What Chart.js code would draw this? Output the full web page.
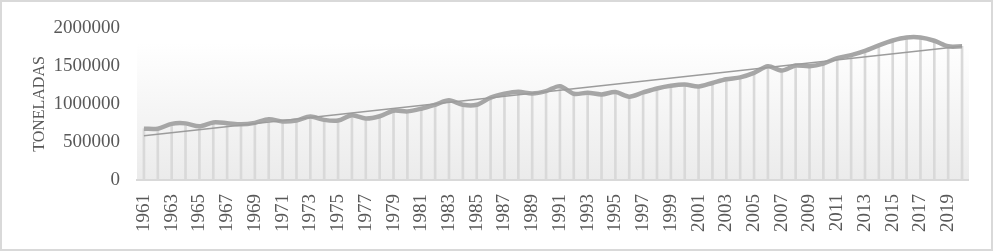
<!DOCTYPE html>
<html>
<head>
<meta charset="utf-8">
<script src="https://cdn.jsdelivr.net/npm/chart.js@4.4.1/dist/chart.umd.min.js"></script>
<style>
    html, body { margin: 0; padding: 0; background: #fff; }
    #wrap {
        width: 993px; height: 251px; box-sizing: border-box;
        border: 2px solid #d9d9d9; position: relative;
    }
    canvas { position: absolute; left: 0; top: 0; }
</style>
</head>
<body>
<div id="wrap"><canvas id="chart" width="989" height="247"></canvas></div>
<script>
// años
const years = [];
for (let y = 1961; y <= 2020; y++) years.push(String(y));

// producción (toneladas)
const toneladas = [
    675000, 675000, 739000, 745000, 706000, 757000, 748000, 732000, 752000, 800000,
    770000, 783000, 835000, 791000, 783000, 852000, 809000, 839000, 912000, 903000,
    938000, 990000, 1049000, 990000, 990000, 1084000, 1135000, 1161000, 1139000, 1170000,
    1235000, 1135000, 1148000, 1126000, 1157000, 1097000, 1152000, 1204000, 1239000, 1255000,
    1230000, 1277000, 1325000, 1351000, 1410000, 1497000, 1441000, 1506000, 1497000, 1532000,
    1604000, 1643000, 1699000, 1772000, 1836000, 1875000, 1875000, 1832000, 1759000, 1759000
];

// línea de tendencia: solo extremos
const trendStart = 581000;
const trendEnd = 1760000;
const tendencia = years.map((_, i) => i === 0 ? trendStart : (i === years.length - 1 ? trendEnd : null));

const yTicks = [0, 500000, 1000000, 1500000, 2000000];

const FONT = "'Liberation Serif', 'Times New Roman', serif";

// fondo degradado del área de trazado
const plotBg = {
    id: 'plotBg',
    beforeDraw(chart) {
        const { ctx, chartArea: a } = chart;
        const top = a.top + 15;
        const g = ctx.createLinearGradient(0, top, 0, a.bottom);
        g.addColorStop(0, '#ffffff');
        g.addColorStop(1, '#ebebeb');
        ctx.save();
        ctx.fillStyle = g;
        ctx.fillRect(a.left, top, a.right - a.left, a.bottom - top);
        ctx.restore();
    }
};

new Chart(document.getElementById('chart'), {
    data: {
        labels: years,
        datasets: [
            {
                type: 'line',
                data: tendencia,
                spanGaps: true,
                borderColor: '#9c9c9c',
                borderWidth: 1.5,
                pointRadius: 0,
                order: 0
            },
            {
                type: 'line',
                data: toneladas,
                borderColor: '#a6a6a6',
                borderWidth: 4.5,
                tension: 0.3,
                pointRadius: 0,
                fill: false,
                order: 1
            },
            {
                type: 'bar',
                data: toneladas,
                backgroundColor: '#d9d9d9',
                barThickness: 2,
                order: 2
            }
        ]
    },
    options: {
        responsive: false,
        animation: false,
        layout: { padding: { left: 28, top: 26, right: 19, bottom: 16 } },
        plugins: { legend: { display: false }, tooltip: { enabled: false } },
        scales: {
            x: {
                offset: true,
                grid: { display: false },
                border: { display: true, color: '#d9d9d9', width: 2 },
                afterFit: function(scale) { scale.height = 53; },
                ticks: {
                    autoSkip: false,
                    minRotation: 90,
                    maxRotation: 90,
                    padding: 6,
                    color: '#595959',
                    font: { family: FONT, size: 19 },
                    callback: function(v, i) { return i % 2 === 0 ? years[i] : ''; }
                }
            },
            y: {
                min: 0,
                max: 2000000,
                afterBuildTicks: function(scale) { scale.ticks = yTicks.map(v => ({ value: v })); },
                afterFit: function(scale) { scale.width = 107; },
                grid: { display: false },
                border: { display: false },
                title: {
                    display: true,
                    text: 'TONELADAS',
                    color: '#595959',
                    font: { family: FONT, size: 16 },
                    padding: { top: 0, bottom: 4 }
                },
                ticks: {
                    padding: 9,
                    color: '#595959',
                    font: { family: FONT, size: 19 },
                    callback: function(v) { return String(v); }
                }
            }
        }
    },
    plugins: [plotBg]
});
</script>
</body>
</html>
